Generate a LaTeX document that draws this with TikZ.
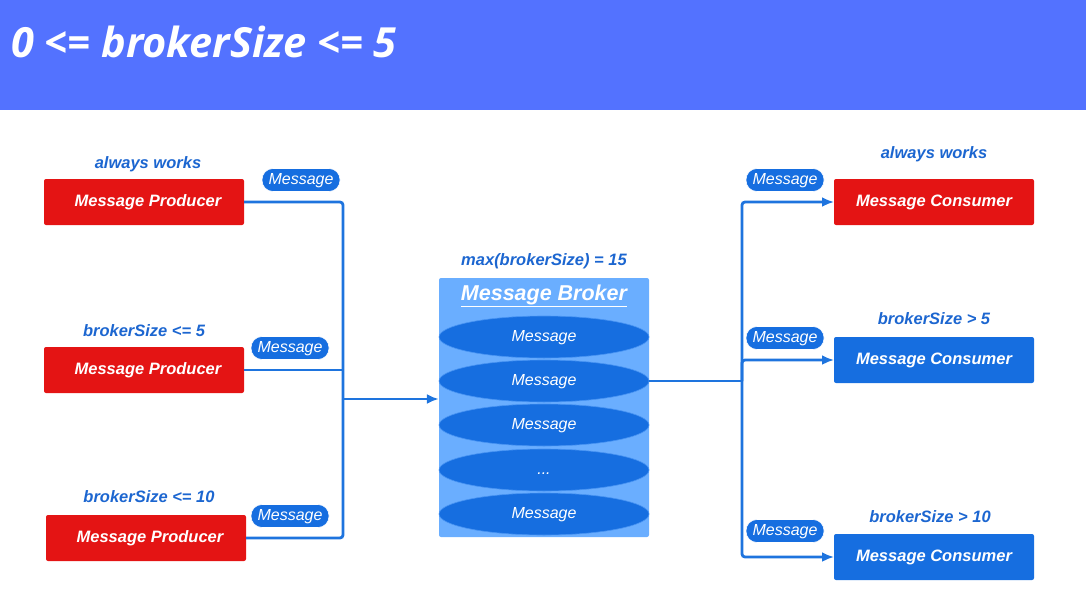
\documentclass[tikz,border=0pt]{standalone}
\usepackage{fontspec}
\setmainfont{Liberation Sans}
\newfontfamily\titlefont{Open Sans}
\usetikzlibrary{arrows.meta,shapes.geometric}
\definecolor{hdr}{RGB}{83,114,255}
\definecolor{pred}{RGB}{228,20,20}
\definecolor{pblue}{RGB}{22,110,224}
\definecolor{lblue}{RGB}{106,174,255}
\definecolor{tblue}{RGB}{28,102,208}
\definecolor{lineblue}{RGB}{30,116,222}
\tikzset{
  box/.style={rectangle, minimum width=200pt, minimum height=46pt, inner sep=0pt, outer sep=0pt, rounded corners=2pt, text=white, text height=12pt, text depth=3.5pt, font=\fontsize{16.5}{18}\selectfont\bfseries\itshape},
  redbox/.style={box, fill=pred},
  bluebox/.style={box, fill=pblue},
  cond/.style={text=tblue, font=\fontsize{16.5}{18}\selectfont\bfseries\itshape},
  pill/.style={rectangle, rounded corners=11pt, fill=pblue, draw=white, line width=0.6pt, minimum width=78pt, minimum height=23pt, inner sep=0pt, text height=10.5pt, text depth=2.5pt, text=white, font=\fontsize{16}{18}\selectfont\itshape},
  msg/.style={ellipse, fill=pblue, draw=lblue!60!pblue, line width=0.6pt, minimum width=210pt, minimum height=42pt, inner sep=0pt, text height=11pt, text depth=3pt, text=white, font=\fontsize{16}{18}\selectfont\itshape},
  conn/.style={draw=lineblue, line width=2.8pt, rounded corners=3pt},
  arr/.style={conn, -{Latex[length=12pt,width=10pt]}}
}
\begin{document}
\begin{tikzpicture}[x=1pt,y=-1pt]
\useasboundingbox (0,0) rectangle (1086,594);
\fill[hdr] (0,0) rectangle (1086,110);
\node[anchor=west, inner sep=0pt, text=white, font=\titlefont\bfseries\itshape\fontsize{41.5}{50}\selectfont] (title) at (11,42) {0 <= brokerSize <= 5};

% producers
\node[redbox] (p1) at (144,202) {\hspace*{8pt}Message Producer};
\node[redbox] (p2) at (144,370) {\hspace*{8pt}Message Producer};
\node[redbox] (p3) at (146,538) {\hspace*{8pt}Message Producer};
\node[cond] (lp1) at (148,164) {always works};
\node[cond] (lp2) at (144,331) {brokerSize <= 5};
\node[cond] (lp3) at (149,497) {brokerSize <= 10};
\node[pill] (pm1) at (301,180) {Message};
\node[pill] (pm2) at (290,348) {Message};
\node[pill] (pm3) at (290,516) {Message};

% broker
\node[rectangle, fill=lblue, minimum width=210pt, minimum height=259pt, inner sep=0pt, rounded corners=2pt] (broker) at (544,407.5) {};
\node[cond] (maxl) at (544,261) {max(brokerSize) = 15};
\node[text=white, font=\fontsize{21.5}{24}\selectfont\bfseries\itshape] (btitle) at (544,296) {\underline{Message Broker}};
\node[msg] (m1) at (544,337) {Message};
\node[msg] (m2) at (544,381) {Message};
\node[msg] (m3) at (544,425) {Message};
\node[msg] (m4) at (544,470) {...};
\node[msg] (m5) at (544,514) {Message};

% consumers
\node[redbox] (c1) at (934,202) {Message Consumer};
\node[bluebox] (c2) at (934,360) {Message Consumer};
\node[bluebox] (c3) at (934,557) {Message Consumer};
\node[cond] (lc1) at (934,154) {always works};
\node[cond] (lc2) at (934,319) {brokerSize > 5};
\node[cond] (lc3) at (930,517) {brokerSize > 10};
\node[pill] (cm1) at (785,180) {Message};
\node[pill] (cm2) at (785,338) {Message};
\node[pill] (cm3) at (785,531) {Message};

% connectors left
\coordinate (lj) at (343,399);
\draw[conn] (p1.east) -| (lj);
\draw[conn] (p3.east) -| (lj);
\draw[conn] (p2.east) -- (p2.east -| lj);
\draw[arr] (lj) -- (lj -| broker.west);

% connectors right
\coordinate (rj) at (742,381);
\draw[conn] (m2.east) -- (rj);
\draw[arr] (rj) |- (c1.west);
\draw[arr] (rj) |- (c2.west);
\draw[arr] (rj) |- (c3.west);
\end{tikzpicture}
\end{document}
